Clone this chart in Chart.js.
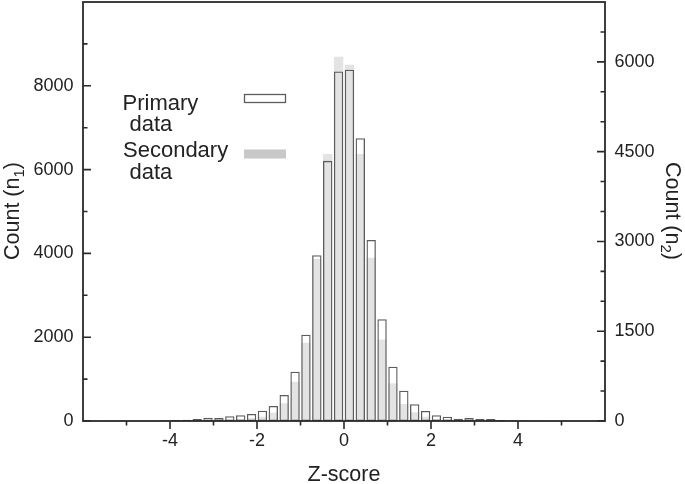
<!DOCTYPE html>
<html><head><meta charset="utf-8">
<script src="https://cdn.jsdelivr.net/npm/chart.js@4/dist/chart.umd.min.js"></script>
<style>html,body{margin:0;padding:0;background:#fff}#wrap{width:685px;height:484px;position:relative}</style>
</head><body><div id="wrap"><canvas id="c"></canvas></div>
<script>
// ---- data ----
const binCenters = [-5.875,-5.625,-5.375,-5.125,-4.875,-4.625,-4.375,-4.125,-3.875,-3.625,-3.375,-3.125,-2.875,-2.625,-2.375,-2.125,-1.875,-1.625,-1.375,-1.125,-0.875,-0.625,-0.375,-0.125,0.125,0.375,0.625,0.875,1.125,1.375,1.625,1.875,2.125,2.375,2.625,2.875,3.125,3.375,3.625,3.875,4.125,4.375,4.625,4.875,5.125,5.375,5.625,5.875];
const primaryCounts = [0,0,8,5,5,6,8,12,25,30,48,80,72,112,136,167,246,358,621,1178,2061,3956,6209,8341,8382,6751,4322,2428,1297,724,398,239,136,103,55,72,48,48,24,17,12,6,0,0,0,0,0,0];
const secondaryCounts = [0,0,0,3,3,3,5,5,8,8,10,15,20,25,33,50,72,139,295,655,1305,2712,4462,6084,5951,4462,2728,1361,628,283,145,72,35,25,15,12,10,8,5,3,3,0,0,0,0,0,0,0];
const seriesLabels = [['Primary',' data'],['Secondary',' data']];
const xTickLabels = ['-4','-2','0','2','4'];
const xMinorTicks = [-5,-3,-1,1,3,5];
const leftTickLabels = ['0','2000','4000','6000','8000'];
const leftMinorTicks = [1000,3000,5000,7000,9000];
const rightTickLabels = ['0','1500','3000','4500','6000'];
const rightMinorTicks = [500,1000,2000,2500,3500,4000,5000,5500,6500];
const xTitle = 'Z-score';
const leftTitle = ['Count (n','1',')'];
const rightTitle = ['Count (n','2',')'];

const FONT = "'Liberation Sans', Arial, sans-serif";
const INK = '#222';

function fixedTicks(list){ return function(s){ s.ticks = list.map(t=>({value:+t})); }; }
function labelCb(list){ return function(v){ const s=String(v); return list.includes(s)?s:''; }; }

const decor = {
  id:'decor',
  afterDatasetsDraw(chart){
    const ctx=chart.ctx, a=chart.chartArea;
    const sx=chart.scales.x, sy=chart.scales.y, sy2=chart.scales.y2;
    ctx.save();
    ctx.strokeStyle='#2a2a2a'; ctx.lineWidth=1.6; ctx.lineCap='butt';
    ctx.beginPath();
    xTickLabels.forEach(t=>{const p=sx.getPixelForValue(+t); ctx.moveTo(p,a.bottom); ctx.lineTo(p,a.bottom+8);});
    xMinorTicks.forEach(t=>{const p=sx.getPixelForValue(t); ctx.moveTo(p,a.bottom); ctx.lineTo(p,a.bottom+4.5);});
    leftTickLabels.forEach(t=>{const p=sy.getPixelForValue(+t); ctx.moveTo(a.left,p); ctx.lineTo(a.left+8,p);});
    leftMinorTicks.forEach(t=>{const p=sy.getPixelForValue(t); ctx.moveTo(a.left,p); ctx.lineTo(a.left+4.5,p);});
    rightTickLabels.forEach(t=>{const p=sy2.getPixelForValue(+t); ctx.moveTo(a.right,p); ctx.lineTo(a.right-8,p);});
    rightMinorTicks.forEach(t=>{const p=sy2.getPixelForValue(t); ctx.moveTo(a.right,p); ctx.lineTo(a.right-4.5,p);});
    ctx.stroke();
    ctx.lineWidth=1.8;
    ctx.strokeRect(a.left,a.top,a.right-a.left,a.bottom-a.top);

    ctx.fillStyle=INK;
    ctx.textBaseline='alphabetic';
    ctx.textAlign='left';
    ctx.font='21.5px '+FONT;
    ctx.fillText(xTitle, (a.left+a.right)/2 - ctx.measureText(xTitle).width/2, 481);
    function drawSub(parts, cx, cy, ang){
      ctx.save(); ctx.translate(cx,cy); ctx.rotate(ang);
      ctx.font='21.5px '+FONT; const w1=ctx.measureText(parts[0]).width, w3=ctx.measureText(parts[2]).width;
      ctx.font='15px '+FONT; const w2=ctx.measureText(parts[1]).width;
      let x=-(w1+w2+w3)/2;
      ctx.font='21.5px '+FONT; ctx.fillText(parts[0],x,0); x+=w1;
      ctx.font='15px '+FONT; ctx.fillText(parts[1],x,5); x+=w2;
      ctx.font='21.5px '+FONT; ctx.fillText(parts[2],x,0);
      ctx.restore();
    }
    drawSub(leftTitle, 19, 211, -Math.PI/2);
    drawSub(rightTitle, 666, 211, Math.PI/2);

    ctx.font='22px '+FONT;
    const ds=chart.data.datasets;
    const rows=[[122.5,109.5],[129.5,131],[123,157.3],[129.5,179]];
    ctx.fillText(ds[0].label[0].trim(), rows[0][0], rows[0][1]);
    ctx.fillText(ds[0].label[1].trim(), rows[1][0], rows[1][1]);
    ctx.fillText(ds[1].label[0].trim(), rows[2][0], rows[2][1]);
    ctx.fillText(ds[1].label[1].trim(), rows[3][0], rows[3][1]);
    ctx.fillStyle='#fff'; ctx.fillRect(244.5,94.5,41,8);
    ctx.strokeStyle='#5c5c5c'; ctx.lineWidth=1.3; ctx.strokeRect(244.5,94.5,41,8);
    ctx.fillStyle='#c8c8c8'; ctx.fillRect(244,149.5,42,9);
    ctx.restore();
  }
};

new Chart(document.getElementById('c'), {
  type:'bar',
  data:{
    datasets:[
      {label:seriesLabels[0], data:binCenters.map((c,i)=>({x:c,y:primaryCounts[i]})), yAxisID:'y',
       backgroundColor:'rgba(255,255,255,0)', borderColor:'#5c5c5c', borderWidth:1.3, borderSkipped:false, order:1},
      {label:seriesLabels[1], data:binCenters.map((c,i)=>({x:c,y:secondaryCounts[i]})), yAxisID:'y2',
       backgroundColor:'#e3e3e3', borderWidth:0, order:2}
    ]
  },
  options:{
    responsive:true, maintainAspectRatio:false, animation:false,
    layout:{padding:{top:2,left:0,right:0,bottom:0}},
    datasets:{bar:{grouped:false, barPercentage:0.86, categoryPercentage:1}},
    plugins:{legend:{display:false}, tooltip:{enabled:false}},
    scales:{
      x:{type:'linear', min:-6, max:6, offset:false, position:'bottom',
         grid:{display:false, drawTicks:false, offset:false}, border:{display:false},
         afterBuildTicks:fixedTicks(xTickLabels),
         ticks:{autoSkip:false, maxRotation:0, padding:9, color:INK, font:{family:FONT,size:18}, callback:labelCb(xTickLabels)},
         afterFit(s){s.height=63; s.paddingLeft=0; s.paddingRight=0;}},
      y:{type:'linear', min:0, max:10000, position:'left',
         grid:{display:false, drawTicks:false}, border:{display:false},
         afterBuildTicks:fixedTicks(leftTickLabels),
         ticks:{autoSkip:false, padding:9.5, color:INK, font:{family:FONT,size:18}, callback:labelCb(leftTickLabels)},
         afterFit(s){s.width=83; s.paddingTop=0; s.paddingBottom=0;}},
      y2:{type:'linear', min:0, max:7000, position:'right',
         grid:{display:false, drawTicks:false}, border:{display:false},
         afterBuildTicks:fixedTicks(rightTickLabels),
         ticks:{autoSkip:false, padding:9.5, color:INK, font:{family:FONT,size:18}, callback:labelCb(rightTickLabels)},
         afterFit(s){s.width=80; s.paddingTop=0; s.paddingBottom=0;}}
    }
  },
  plugins:[decor]
});
</script></body></html>
